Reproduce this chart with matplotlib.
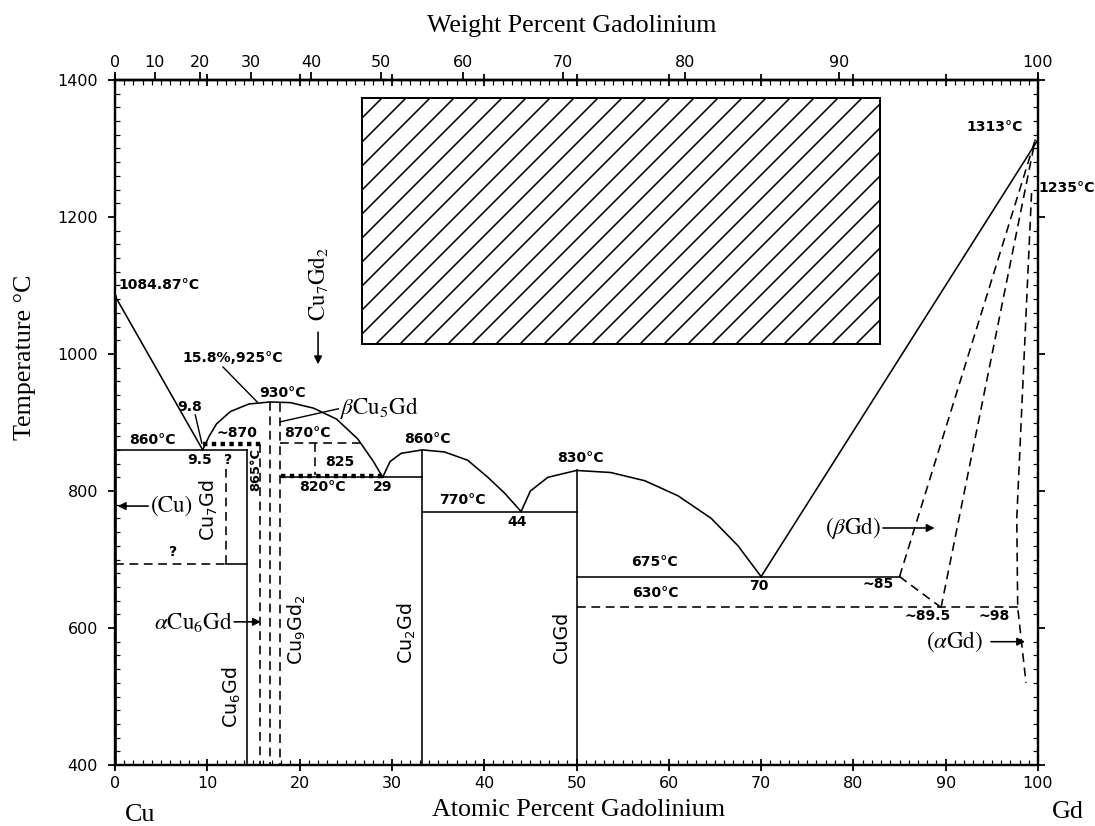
import numpy as np
import matplotlib.pyplot as plt
from matplotlib.patches import Rectangle
from matplotlib.ticker import MultipleLocator

plt.rcParams['font.family'] = ['DejaVu Sans']
plt.rcParams['hatch.linewidth'] = 0.8

# molar masses for the at% <-> wt% scale on top
M_CU = 63.546
M_GD = 157.25


def at_to_wt(a):
    a = np.clip(np.asarray(a, dtype=float), 0, 100)
    return 100 * a * M_GD / (a * M_GD + (100 - a) * M_CU)


def wt_to_at(w):
    w = np.clip(np.asarray(w, dtype=float), 0, 100)
    return 100 * (w / M_GD) / (w / M_GD + (100 - w) / M_CU)


# liquidus curves (at% Gd, deg C)
liq_cu_x = [0, 9.5]
liq_cu_t = [1084.87, 860]
dome1_x = [9.5, 10.2, 11.0, 12.5, 14.5, 16.8, 19.0, 21.5, 24.0, 26.3, 28.0, 29.0]
dome1_t = [860, 880, 898, 916, 927, 930, 929, 921, 905, 876, 843, 820]
dome2_x = [29, 29.8, 31, 33.3, 35.7, 38.2, 40.4, 42.2, 44]
dome2_t = [820, 843, 855, 860, 857, 845, 820, 797, 770]
dome3_x = [44, 45, 46.9, 50, 53.7, 57.4, 61, 64.6, 67.5, 70]
dome3_t = [770, 800, 820, 830, 827, 815, 793, 760, 720, 675]
liq_gd_x = [70, 100]
liq_gd_t = [675, 1313]

# solid boundaries
solid_segs = [
    ([0.15, 0.15], [1084.87, 400]),
    ([0, 14.3], [860, 860]),
    ([14.3, 14.3], [860, 400]),
    ([12, 14.3], [693, 693]),
    ([18, 33.3], [820, 820]),
    ([33.3, 33.3], [860, 400]),
    ([33.3, 50], [770, 770]),
    ([50, 50], [830, 400]),
    ([50, 85], [675, 675]),
]

# dashed (uncertain) boundaries
dashed_segs = [
    ([0, 12], [693, 693]),
    ([12, 12], [693, 832]),
    ([15.7, 15.7], [868, 400]),
    ([16.8, 16.8], [930, 400]),
    ([17.9, 17.9], [928, 400]),
    ([17.9, 26.5], [870, 870]),
    ([21.7, 21.7], [870, 824]),
    ([50, 98], [630, 630]),
    ([85, 99.7], [675, 1313]),
    ([85, 89.5], [675, 630]),
    ([89.5, 99.7], [630, 1313]),
    ([99.3, 97.7, 97.8, 98.7], [1235, 760, 630, 520]),
]

# heavy dotted invariant lines
dotted_segs = [
    ([9.5, 16], [868, 868]),
    ([18, 29], [822, 822]),
]

# leader lines
leader_segs = [
    ([11.7, 15.4], [981, 930]),
    ([8.7, 9.4], [911, 870]),
    ([24.2, 17.9], [920, 901]),
]

# arrows: (tail x, tail t, tip x, tip t)
arrows = [
    (3.6, 778, 0.3, 778),
    (22.0, 1032, 22.0, 985),
    (12.9, 609, 15.8, 609),
    (83.2, 746, 88.8, 746),
    (94.9, 580, 98.6, 580),
]

# unexplored (hatched) region
hatch_x = [26.8, 82.9]
hatch_t = [1015, 1374]

num_labels = [
    ('1084.87°C', 0.4, 1100, 'left'),
    ('15.8%,925°C', 12.8, 994, 'center'),
    ('9.8', 8.1, 922, 'center'),
    ('860°C', 4.1, 874, 'center'),
    ('9.5', 9.2, 845, 'center'),
    ('930°C', 18.1, 943, 'center'),
    ('~870', 13.2, 884, 'center'),
    ('870°C', 20.9, 885, 'center'),
    ('825', 24.3, 842, 'center'),
    ('820°C', 22.5, 806, 'center'),
    ('29', 29.0, 806, 'center'),
    ('860°C', 33.9, 876, 'center'),
    ('770°C', 37.6, 787, 'center'),
    ('44', 43.6, 755, 'center'),
    ('830°C', 50.4, 848, 'center'),
    ('675°C', 58.5, 697, 'center'),
    ('70', 69.7, 662, 'center'),
    ('630°C', 58.5, 651, 'center'),
    ('1313°C', 98.4, 1332, 'right'),
    ('1235°C', 100.0, 1242, 'left'),
    ('~85', 82.7, 664, 'center'),
    ('~89.5', 88.0, 618, 'center'),
    ('~98', 95.3, 618, 'center'),
    ('?', 12.2, 845, 'center'),
    ('?', 6.2, 711, 'center'),
]

serif_labels = [
    ('(Cu)', 6.2, 778, 'center', 0),
    (r'$\alpha$Cu$_6$Gd', 8.5, 609, 'center', 0),
    (r'$\beta$Cu$_5$Gd', 24.4, 921, 'left', 0),
    (r'($\beta$Gd)', 80.0, 746, 'center', 0),
    (r'($\alpha$Gd)', 91.0, 580, 'center', 0),
    (r'Cu$_7$Gd$_2$', 22.0, 1102, 'center', 90),
]

sans_phase_labels = [
    (r'Cu$_7$Gd', 10.2, 772),
    (r'Cu$_6$Gd', 12.7, 499),
    (r'Cu$_9$Gd$_2$', 19.7, 597),
    (r'Cu$_2$Gd', 31.6, 593),
    ('CuGd', 48.4, 587),
]

fig = plt.figure(figsize=(1095 / 144, 826 / 144), dpi=144)
ax = fig.add_axes([115 / 1095, 1 - 765 / 826, (1038 - 115) / 1095, (765 - 80) / 826])
ax.set_xlim(0, 100)
ax.set_ylim(400, 1400)

lw = 0.8
for xs, ts in [(liq_cu_x, liq_cu_t), (dome1_x, dome1_t), (dome2_x, dome2_t),
               (dome3_x, dome3_t), (liq_gd_x, liq_gd_t)]:
    ax.plot(xs, ts, color='k', lw=lw)
for xs, ts in solid_segs:
    ax.plot(xs, ts, color='k', lw=lw)
for xs, ts in dashed_segs:
    ax.plot(xs, ts, color='k', lw=lw, dashes=(5.5, 3.5))
for xs, ts in dotted_segs:
    ax.plot(xs, ts, color='k', lw=2.2, dashes=(1.0, 1.0))
for xs, ts in leader_segs:
    ax.plot(xs, ts, color='k', lw=0.7)

for x0, t0, x1, t1 in arrows:
    ax.annotate('', xy=(x1, t1), xytext=(x0, t0),
                arrowprops=dict(arrowstyle='-|>', color='k', lw=0.8,
                                mutation_scale=8, shrinkA=0, shrinkB=0))

ax.add_patch(Rectangle((hatch_x[0], hatch_t[0]), hatch_x[1] - hatch_x[0],
                       hatch_t[1] - hatch_t[0], fill=False, hatch='//',
                       edgecolor='k', lw=1.0))

for s, x, t, ha in num_labels:
    ax.text(x, t, s, ha=ha, va='center', fontsize=7, fontweight='bold',
            clip_on=False)
ax.text(15.2, 831, '865°C', rotation=90, ha='center', va='center',
        fontsize=6.5, fontweight='bold')

for s, x, t, ha, rot in serif_labels:
    ax.text(x, t, s, ha=ha, va='center', rotation=rot, family='STIXGeneral',
            math_fontfamily='stix', fontsize=11.5)

for s, x, t in sans_phase_labels:
    ax.text(x, t, s, ha='center', va='center', rotation=90, fontsize=9.5,
            math_fontfamily='dejavusans')

# axes and ticks
for sp in ax.spines.values():
    sp.set_linewidth(1.2)
ax.xaxis.set_major_locator(MultipleLocator(10))
ax.xaxis.set_minor_locator(MultipleLocator(1))
ax.yaxis.set_major_locator(MultipleLocator(200))
ax.yaxis.set_minor_locator(MultipleLocator(20))
ax.tick_params(axis='x', which='major', direction='inout', length=6, width=0.9,
               top=True, labelsize=8, pad=2.5)
ax.tick_params(axis='y', which='major', direction='out', length=3.5, width=0.9,
               right=True, labelsize=8, pad=5)
ax.tick_params(which='minor', direction='in', length=2.5, width=0.6,
               top=True, right=True)

sec = ax.secondary_xaxis('top', functions=(at_to_wt, wt_to_at))
sec.set_xticks(range(0, 101, 10))
sec.tick_params(direction='out', length=4, width=0.9, labelsize=8, pad=1)
sec.spines['top'].set_linewidth(1.2)

serif = 'Liberation Serif'
fig.text(25 / 1095, 1 - 357 / 826, 'Temperature °C', rotation=90, family=serif,
         fontsize=13, ha='center', va='center')
fig.text(579 / 1095, 1 - 810 / 826, 'Atomic Percent Gadolinium', family=serif,
         fontsize=13, ha='center', va='center')
fig.text(572 / 1095, 1 - 26 / 826, 'Weight Percent Gadolinium', family=serif,
         fontsize=13, ha='center', va='center')
fig.text(140 / 1095, 1 - 815 / 826, 'Cu', family=serif, fontsize=13,
         ha='center', va='center')
fig.text(1068 / 1095, 1 - 812 / 826, 'Gd', family=serif, fontsize=13,
         ha='center', va='center')

fig.savefig('out.png', dpi=144)
